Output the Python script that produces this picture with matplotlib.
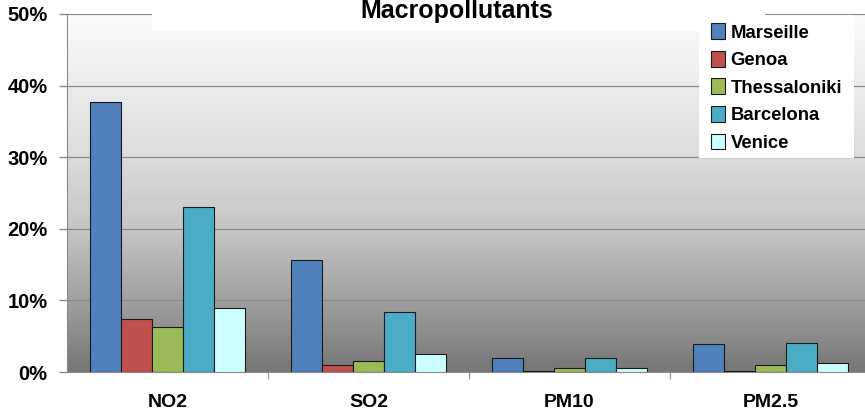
import numpy as np
import matplotlib
matplotlib.use("Agg")
import matplotlib.pyplot as plt
from matplotlib.patches import Rectangle
from matplotlib.ticker import PercentFormatter

# categories and series (percent)
pollutants = ["NO2", "SO2", "PM10", "PM2.5"]
cities = ["Marseille", "Genoa", "Thessaloniki", "Barcelona", "Venice"]
marseille = [37.7, 15.6, 1.9, 3.9]
genoa = [7.4, 1.0, 0.2, 0.2]
thessaloniki = [6.3, 1.5, 0.5, 1.0]
barcelona = [23.1, 8.4, 2.0, 4.0]
venice = [8.9, 2.5, 0.6, 1.3]
series = [marseille, genoa, thessaloniki, barcelona, venice]
colors = ["#4F81BD", "#C0504D", "#9BBB59", "#4BACC6", "#CCFFFF"]
yticks = [0, 10, 20, 30, 40, 50]

plt.rcParams['font.family'] = ['Liberation Sans', 'DejaVu Sans']
plt.rcParams['font.weight'] = 'bold'

W, H = 865, 413
fig = plt.figure(figsize=(W / 100, H / 100), dpi=100)
ax = fig.add_axes([67 / W, 41 / H, 804 / W, 358 / H])
ax.set_xlim(-0.5, 3.5)
ax.set_ylim(0, 50)

# background gradient: light at top, grey at bottom
ys = np.array([0, 10, 20, 30, 40, 50])
gs = np.array([118, 160, 198, 220, 236, 252]) / 255
yy = np.linspace(0, 50, 300)
g = np.interp(yy, ys, gs)
img = np.repeat(g[:, None, None], 3, axis=2)
ax.imshow(img, extent=(-0.5, 3.5, 0, 50), origin='lower',
          aspect='auto', zorder=0, interpolation='bilinear')

ax.set_yticks(yticks)
ax.yaxis.set_major_formatter(PercentFormatter(decimals=0))
ax.grid(axis='y', color='#8a8a8a', linewidth=0.9, zorder=1)
ax.set_axisbelow(True)

x = np.arange(len(pollutants))
bw = 0.155
for i, (name, vals, c) in enumerate(zip(cities, series, colors)):
    ax.bar(x + (i - 2) * bw, vals, bw, color=c, edgecolor='#1a1a1a',
           linewidth=0.8, label=name, zorder=3)

# category labels and boundary ticks
ax.set_xticks(x)
ax.set_xticklabels(pollutants, fontsize=14, fontweight='bold')
ax.tick_params(axis='x', length=0, pad=16)
ax.set_xticks([0.5, 1.5, 2.5], minor=True)
ax.tick_params(axis='x', which='minor', length=5, color='#a0a0a0', width=1)
ax.tick_params(axis='y', length=6, color='#8a8a8a', width=1, pad=8, labelsize=14.5)
for lab in ax.get_yticklabels():
    lab.set_fontweight('bold')

for s in ['top', 'right']:
    ax.spines[s].set_visible(False)
ax.spines['left'].set_color('#8a8a8a')
ax.spines['bottom'].set_color('#8a8a8a')
ax.spines['left'].set_zorder(4)

# white title box over the top of the plot area
fig.add_artist(Rectangle((152 / W, 1 - 31 / H), (765 - 152) / W, 31 / H,
                         transform=fig.transFigure, facecolor='white', edgecolor='none', zorder=2))
fig.text(457 / W, 1 - 11 / H, "Macropollutants", ha='center', va='center',
         fontsize=18, fontweight='bold', zorder=3)

# white box behind the legend, legend itself without frame
fig.add_artist(Rectangle((699 / W, 1 - 158 / H), (854 - 699) / W, (158 - 15) / H,
                         transform=fig.transFigure, facecolor='white', edgecolor='none', zorder=4))
handles, labels = ax.get_legend_handles_labels()
leg = fig.legend(handles, labels, loc='upper left', bbox_to_anchor=(703 / W, 1 - 15 / H),
                 frameon=False, prop={'size': 13.3, 'weight': 'bold'},
                 handlelength=0.75, handleheight=0.95, handletextpad=0.3,
                 labelspacing=0.5, borderpad=0.45, borderaxespad=0)
leg.set_zorder(5)

fig.savefig("out.png", dpi=100)
